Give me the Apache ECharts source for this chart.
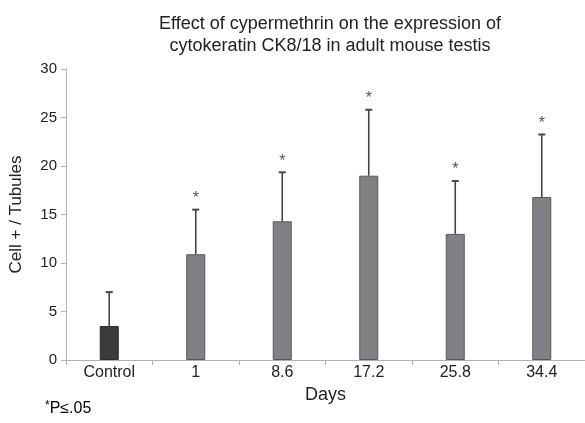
<!DOCTYPE html>
<html><head><meta charset="utf-8">
<script src="https://cdn.jsdelivr.net/npm/echarts@6/dist/echarts.min.js"></script>
<style>html,body{margin:0;padding:0;background:#fff}#c{width:585px;height:423px}</style>
</head><body><div id="c"></div>
<script>
var categories = ["Control", "1", "8.6", "17.2", "25.8", "34.4"];
var means = [3.5, 10.9, 14.3, 19.0, 13.0, 16.8];
var errTops = [7.0, 15.5, 19.35, 25.8, 18.45, 23.25];
var significant = [false, true, true, true, true, true];
var yTicks = [0, 5, 10, 15, 20, 25, 30];

var chart = echarts.init(document.getElementById('c'), null, {renderer: 'canvas'});
var F = 'Liberation Sans, Arial, sans-serif';
var barData = means.map(function (v, i) {
  return {value: v, itemStyle: i === 0 ? {color: '#3b3b3b', borderColor: '#2a2a2a'} : {color: '#808185', borderColor: '#55565a'}};
});
var errData = categories.map(function (c, i) { return [i, means[i], errTops[i], significant[i] ? 1 : 0]; });

chart.setOption({
  animation: false,
  title: {
    text: 'Effect of cypermethrin on the expression of\ncytokeratin CK8/18 in adult mouse testis',
    left: 325, textAlign: 'center', top: 8,
    textStyle: {fontFamily: F, fontSize: 18, fontWeight: 'normal', color: '#222', lineHeight: 22}
  },
  grid: {left: 66, top: 69, width: 522, bottom: 63},
  xAxis: {
    type: 'category', data: categories,
    name: 'Days', nameLocation: 'middle', nameGap: 23,
    nameTextStyle: {fontFamily: F, fontSize: 18, color: '#222'},
    axisLine: {lineStyle: {color: '#b0b0b0', width: 1}},
    axisTick: {show: true, length: 5, lineStyle: {color: '#b0b0b0'}},
    axisLabel: {fontFamily: F, fontSize: 16, color: '#222', margin: 5}
  },
  yAxis: {
    type: 'value', min: 0, max: 30, interval: 5,
    name: 'Cell + / Tubules', nameLocation: 'middle', nameGap: 41,
    nameTextStyle: {fontFamily: F, fontSize: 17, color: '#222'},
    axisLine: {show: true, lineStyle: {color: '#b0b0b0', width: 1}},
    axisTick: {show: true, length: 5, lineStyle: {color: '#b0b0b0'}},
    axisLabel: {fontFamily: F, fontSize: 15, color: '#222', margin: 9,
      formatter: function (v) { return yTicks.indexOf(v) >= 0 ? String(v) : ''; }},
    splitLine: {show: false}
  },
  series: [
    {type: 'bar', data: barData, barWidth: 19, itemStyle: {borderWidth: 1}},
    {
      type: 'custom', data: errData, z: 3,
      renderItem: function (params, api) {
        var i = api.value(0);
        var base = api.coord([i, api.value(1)]);
        var top = api.coord([i, api.value(2)]);
        var x = base[0];
        var children = [
          {type: 'line', shape: {x1: x, y1: base[1], x2: x, y2: top[1]}, style: {stroke: '#454545', lineWidth: 1.6}},
          {type: 'line', shape: {x1: x - 3.5, y1: top[1], x2: x + 3.5, y2: top[1]}, style: {stroke: '#454545', lineWidth: 2}}
        ];
        if (api.value(3)) {
          children.push({type: 'text', style: {text: '*', x: x, y: top[1] - 3, textAlign: 'center', textVerticalAlign: 'bottom', fill: '#555', font: '16px ' + F}});
        }
        return {type: 'group', children: children};
      }
    }
  ],
  graphic: [{
    type: 'text', left: 45, top: 400,
    style: {
      text: '{s|*}{n|P≤.05}',
      rich: {
        s: {fontFamily: F, fontSize: 12, color: '#222', verticalAlign: 'top', padding: [0, 0, 6, 0]},
        n: {fontFamily: F, fontSize: 16, color: '#222'}
      }
    }
  }]
});
</script></body></html>
